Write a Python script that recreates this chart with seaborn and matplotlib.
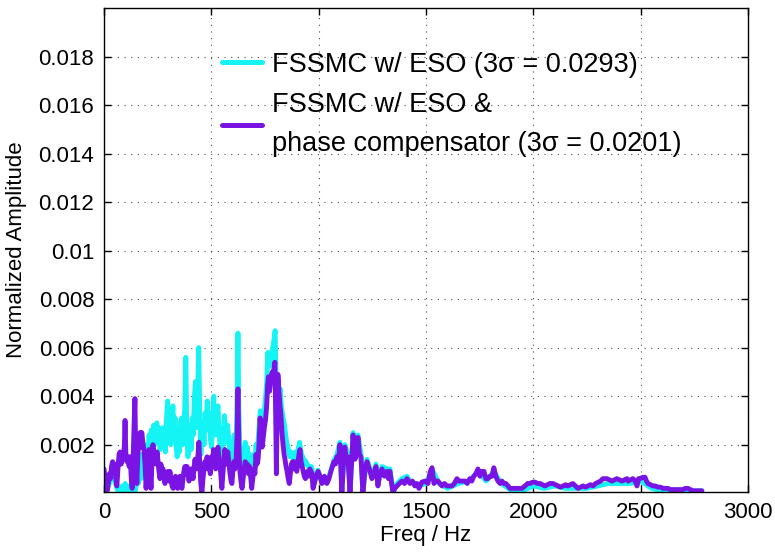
import numpy as np
import pandas as pd
import matplotlib
matplotlib.use("Agg")
import matplotlib.pyplot as plt
import seaborn as sns

# Spectrum of FSSMC with ESO only
freq_eso = [
    0, 7, 14, 21, 28, 35, 42, 50, 57, 64, 71, 78, 85, 92, 99, 106, 113, 120,
    127, 134, 141, 146,
    150, 155, 160, 166, 172, 178, 184, 190, 195, 200, 205, 210, 215, 220, 226,
    231, 236, 241, 246, 251, 256, 261, 266, 271, 276, 281, 286, 291, 296, 301,
    306, 311, 316, 321, 326, 331, 336, 341, 346, 351, 356, 361, 366, 371, 376,
    381, 386, 391, 396, 401, 406, 411, 416, 421, 426, 431, 436, 441, 446, 451,
    456, 461, 466, 471, 476, 481, 486, 491, 496, 501, 506, 511, 516, 521, 526,
    531, 536, 541, 546, 551, 556, 561, 566, 571, 576, 581, 586, 591, 596, 601,
    606, 611, 616, 621, 624, 628, 633, 638, 643, 648, 653, 658, 663, 668, 673,
    678, 683, 688, 693, 698, 703, 708, 713, 718, 723, 728, 733, 738, 743, 748,
    753, 758, 763, 768, 773, 778, 783, 788, 793, 797, 801, 806, 811, 816, 821,
    826, 831, 836, 841, 846, 851, 856, 861, 866, 871, 876, 881, 886, 891, 896,
    901, 906, 911, 916, 921, 926, 931, 936, 941, 946, 951, 956, 961, 966, 971,
    974, 997, 1015, 1038, 1057, 1071, 1085, 1099, 1108, 1122, 1136, 1146, 1160,
    1169, 1183, 1197, 1206, 1225, 1248, 1267, 1276, 1295, 1318, 1332, 1346,
    1365, 1388, 1411, 1425, 1448, 1467, 1500, 1528, 1560, 1600, 1650, 1700,
    1742, 1780, 1816, 1850, 1900, 1950, 2000, 2050, 2100, 2150, 2200, 2250,
    2300, 2350, 2400, 2450, 2500, 2550, 2600, 2650, 2700, 2750, 2785,
]
amp_eso = [
    0.0008, 0.0004, 0.0001, 0.0003, 0.0005, 0.0008, 0.0010, 0.0005, 0.0003,
    0.0001, 0.0002, 0.0001, 0.0003, 0.0001, 0.0004, 0.0002, 0.0001, 0.0003,
    0.0001, 0.0002, 0.0003, 0.0001,
    0.0003, 0.0008, 0.0004, 0.0012, 0.0006, 0.0016, 0.0010, 0.0018, 0.0012,
    0.0020, 0.0016, 0.0024, 0.0017, 0.0026, 0.0019,
    0.0028, 0.0020, 0.0025, 0.0029, 0.0021, 0.0027, 0.0018, 0.0022, 0.0027,
    0.0019, 0.0025, 0.0017, 0.0030, 0.0038, 0.0024,
    0.0033, 0.0020, 0.0030, 0.0036, 0.0024, 0.0031, 0.0019, 0.0015, 0.0022,
    0.0017, 0.0029, 0.0031, 0.0020, 0.0028, 0.0035,
    0.0056, 0.0024, 0.0015, 0.0020, 0.0028, 0.0018, 0.0031, 0.0024, 0.0040,
    0.0046, 0.0027, 0.0038, 0.0060, 0.0034, 0.0016,
    0.0022, 0.0027, 0.0020, 0.0033, 0.0029, 0.0038, 0.0026, 0.0033, 0.0022,
    0.0019, 0.0030, 0.0040, 0.0028, 0.0024, 0.0033,
    0.0036, 0.0025, 0.0019, 0.0013, 0.0016, 0.0025, 0.0032, 0.0026, 0.0021,
    0.0028, 0.0022, 0.0017, 0.0013, 0.0012, 0.0020,
    0.0024, 0.0019, 0.0021, 0.0045, 0.0066, 0.0035, 0.0017, 0.0012, 0.0009,
    0.0014, 0.0018, 0.0021, 0.0016, 0.0019, 0.0014,
    0.0016, 0.0011, 0.0008, 0.0012, 0.0016, 0.0013, 0.0020, 0.0017, 0.0022,
    0.0028, 0.0034, 0.0030, 0.0026, 0.0031, 0.0035,
    0.0040, 0.0046, 0.0058, 0.0052, 0.0056, 0.0054, 0.0059, 0.0061, 0.0064,
    0.0067, 0.0050, 0.0044, 0.0047, 0.0041, 0.0043,
    0.0036, 0.0033, 0.0030, 0.0028, 0.0024, 0.0021, 0.0019, 0.0017, 0.0015,
    0.0017, 0.0015, 0.0016, 0.0014, 0.0017, 0.0015,
    0.0016, 0.0019, 0.0021, 0.0018, 0.0016, 0.0015, 0.0014, 0.0012, 0.0013,
    0.0012, 0.0011, 0.0011, 0.0010, 0.0011, 0.0009,
    0.00025, 0.00095, 0.00045, 0.00045, 0.00095, 0.00135, 0.0016, 0.0021,
    0.0001, 0.0020, 0.0016, 0.0001, 0.0025,
    0.0015, 0.0024, 0.0016, 0.0001, 0.0014, 0.0007, 0.0012, 0.0004, 0.0011,
    0.0010, 0.0010, 0.0001,
    0.0004, 0.0006, 0.0007, 0.0005, 0.0004, 0.0003, 0.0004, 0.0010, 0.0004,
    0.0002, 0.0004, 0.0005,
    0.0009, 0.0005, 0.0009, 0.0004, 0.0001, 0.0001, 0.0003, 0.0002, 0.0003,
    0.0002, 0.0002, 0.0002,
    0.0003, 0.0004, 0.0004, 0.0004, 0.0005, 0.0002, 0.0001, 0.0001, 0.0001,
    0.0001, 0.0001,
]

# Spectrum of FSSMC with ESO and phase compensator
freq_comp = [
    0, 5, 10, 15, 20, 25, 30, 35, 40, 45, 50, 55, 60, 65, 70, 75, 80, 85, 90,
    95, 98, 102, 107, 112, 117, 122, 127, 131, 135, 140, 144, 148, 153, 158,
    163, 168, 172, 176, 181, 186, 191, 196, 201, 205, 210, 215, 219, 224, 228,
    233, 238, 243, 247, 252, 256, 261, 265, 270, 275, 280, 284, 289, 293, 298,
    303, 307, 312, 317, 322, 327, 333, 338, 343, 348, 354, 359, 363, 368, 372,
    377, 382, 387, 391, 396, 400, 405, 410, 415, 420, 424, 429, 433, 438, 442,
    446, 451, 456, 461, 466, 470, 475, 480, 485, 490, 495, 500, 505, 510, 515,
    520, 525, 531, 536, 541, 546, 549, 554, 558, 563, 568, 572, 577, 582, 587,
    592, 596, 601, 605, 610, 615, 620, 624, 628, 633, 638, 643, 648, 653, 658,
    663, 668, 673, 678, 683, 688, 693, 698, 703, 708, 713, 718, 723, 727, 732,
    737, 742, 747, 752, 757, 762, 766, 771, 776, 780, 784, 788, 792, 796, 800,
    803, 806, 810, 815, 820, 825, 829, 834, 839, 843, 848, 853, 858, 863, 868,
    873, 878, 883, 888, 893, 898, 903, 908, 913, 918, 923, 928, 933, 938, 943,
    948, 953, 959, 964, 969,
    974, 985, 997, 1006, 1015, 1027, 1038, 1048, 1057, 1064, 1071, 1078, 1085,
    1092, 1099, 1108, 1115, 1122, 1129, 1136, 1146, 1153, 1160, 1169, 1176,
    1183, 1190, 1197, 1206, 1215, 1225, 1236, 1248, 1257, 1267, 1276, 1285,
    1295, 1306, 1318, 1325, 1332, 1346, 1355, 1365, 1376, 1388, 1400, 1411,
    1418, 1425, 1437, 1448, 1458, 1467, 1481, 1495, 1509, 1520, 1528, 1537,
    1546, 1556, 1565, 1574, 1586, 1597, 1609, 1621, 1632, 1644, 1655, 1667,
    1681, 1692, 1704, 1713, 1723, 1732, 1742, 1751, 1760, 1770, 1779, 1788,
    1798, 1807, 1816, 1825, 1835, 1845, 1854, 1863, 1872, 1882, 1891, 1903,
    1914, 1930, 1947, 1961, 1973, 1984, 1995, 2007, 2019, 2031, 2042, 2054,
    2066, 2077, 2091, 2103, 2115, 2127, 2138, 2150, 2161, 2173, 2184, 2196,
    2208, 2220, 2231, 2243, 2254, 2266, 2278, 2290, 2301, 2313, 2324, 2334,
    2343, 2355, 2366, 2378, 2389, 2401, 2413, 2424, 2436, 2441, 2452, 2464,
    2474, 2483, 2490, 2497, 2508, 2520, 2527, 2534, 2545, 2557, 2568, 2580,
    2592, 2604, 2615, 2627, 2638, 2650, 2661, 2673, 2685, 2697, 2708, 2720,
    2731, 2743, 2755, 2767, 2776, 2785,
]
amp_comp = [
    0.0010, 0.0006, 0.0002, 0.0001, 0.0004, 0.0008, 0.0006, 0.0011, 0.0013,
    0.0009, 0.0012, 0.0006, 0.0003, 0.0010, 0.0016, 0.0017, 0.0012, 0.0015,
    0.0014, 0.0020, 0.0030, 0.0016, 0.0013, 0.0015, 0.0011, 0.0015, 0.0006,
    0.0002, 0.0012, 0.0028, 0.0039, 0.0015, 0.0004, 0.0016, 0.0022, 0.0025,
    0.0019, 0.0025, 0.0021, 0.0018, 0.0012, 0.0002, 0.0010, 0.0016, 0.0018,
    0.0009, 0.0002, 0.0014, 0.0020, 0.0016, 0.0015, 0.0012, 0.0017, 0.0013,
    0.0009, 0.0006, 0.0012, 0.0008, 0.0010, 0.0007, 0.0004, 0.0008, 0.0006,
    0.0009, 0.0005, 0.0009, 0.0006, 0.0003, 0.0002, 0.0005, 0.0007, 0.0004,
    0.0002, 0.0004, 0.0007, 0.0004, 0.0002, 0.0006, 0.0009, 0.0011, 0.0008,
    0.0011, 0.0008, 0.0005, 0.0007, 0.0010, 0.0009, 0.0006, 0.0011, 0.0014,
    0.0010, 0.0012, 0.0016, 0.0021, 0.0012, 0.0004, 0.0000, 0.0006, 0.0010,
    0.0013, 0.0011, 0.0015, 0.0010, 0.0013, 0.0008, 0.0015, 0.0012, 0.0018,
    0.0014, 0.0010, 0.0016, 0.0019, 0.0014, 0.0011, 0.0005, 0.0002, 0.0008,
    0.0013, 0.0018, 0.0012, 0.0015, 0.0017, 0.0012, 0.0008, 0.0005, 0.0004,
    0.0010, 0.0013, 0.0010, 0.0012, 0.0025, 0.0043, 0.0020, 0.0009, 0.0005,
    0.0002, 0.0006, 0.0010, 0.0013, 0.0010, 0.0012, 0.0008, 0.0011, 0.0007,
    0.0002, 0.0006, 0.0010, 0.0008, 0.0016, 0.0012, 0.0014, 0.0022, 0.0031,
    0.0024, 0.0019, 0.0023, 0.0027, 0.0030, 0.0035, 0.0044, 0.0048, 0.0042,
    0.0046, 0.0049, 0.0050, 0.0046, 0.0052, 0.0054, 0.0030, 0.0008, 0.0030,
    0.0049, 0.0042, 0.0036, 0.0031, 0.0025, 0.0020, 0.0016, 0.0014, 0.0011,
    0.0009, 0.0006, 0.0004, 0.0008, 0.0012, 0.0013, 0.0010, 0.0013, 0.0011,
    0.0009, 0.0012, 0.0016, 0.0018, 0.0013, 0.0011, 0.0009, 0.0007, 0.0006,
    0.0008, 0.0009, 0.0007, 0.0010, 0.0009, 0.0008,
    0.0002, 0.0006, 0.0009, 0.0007, 0.0004, 0.0007, 0.0004, 0.0006, 0.0009,
    0.0011, 0.0013, 0.0012, 0.0015,
    0.0013, 0.0020, 0.0000, 0.0012, 0.0019, 0.0013, 0.0015, 0.0000, 0.0012,
    0.0024, 0.0014, 0.0016,
    0.0023, 0.0016, 0.0015, 0.0000, 0.0009, 0.0013, 0.0010, 0.0006, 0.0008,
    0.0011, 0.0003, 0.0008,
    0.0010, 0.0007, 0.0009, 0.0006, 0.0009, 0.0000, 0.0002, 0.0003, 0.0004,
    0.0005, 0.0004, 0.0006,
    0.0005, 0.0004, 0.0005, 0.0003, 0.0004, 0.0002, 0.00046, 0.0005, 0.0004,
    0.0009, 0.00105, 0.0004,
    0.0005, 0.0005, 0.0004, 0.0003, 0.0004, 0.0003, 0.0003, 0.0003, 0.0004,
    0.0006, 0.0005, 0.0005,
    0.0005, 0.0004, 0.0006, 0.0005, 0.0007, 0.0008, 0.0010, 0.0007, 0.0009,
    0.0009, 0.0006, 0.0006,
    0.0007, 0.0007, 0.00105, 0.0007, 0.0005, 0.0004, 0.0005, 0.0004, 0.0004,
    0.0003, 0.0002, 0.0002,
    0.0002, 0.0002, 0.0002, 0.0003, 0.0004, 0.0004, 0.00045, 0.00046, 0.0004,
    0.0004, 0.00035, 0.0003,
    0.00035, 0.0004, 0.0004, 0.00035, 0.0003, 0.00025, 0.0003, 0.00035,
    0.0003, 0.00035, 0.0004, 0.0003,
    0.0002, 0.00025, 0.0003, 0.00025, 0.0003, 0.00035, 0.0003, 0.0004,
    0.00045, 0.0005, 0.0006, 0.0006,
    0.0006, 0.00055, 0.0005, 0.00055, 0.0006, 0.00055, 0.0005, 0.00055,
    0.0006, 0.0005, 0.00055, 0.0006,
    0.0005, 0.0003, 0.0006, 0.0006, 0.00065, 0.00066, 0.0005, 0.0004,
    0.00035, 0.0003, 0.0003, 0.00025,
    0.00025, 0.0002, 0.0002, 0.0002, 0.00015, 0.00015, 0.00015, 0.00015,
    0.00015, 0.00015, 0.0002, 0.0002,
    0.00015, 0.0001, 0.0001, 0.0001, 0.0001, 0.0001,
]

label_eso = "FSSMC w/ ESO (3\u03c3 = 0.0293)"
label_comp = "FSSMC w/ ESO &\nphase compensator (3\u03c3 = 0.0201)"
colors = {label_eso: "#14f4f4", label_comp: "#7a14e4"}

x_ticks = [0, 500, 1000, 1500, 2000, 2500, 3000]
y_ticks = [0.002, 0.004, 0.006, 0.008, 0.010, 0.012, 0.014, 0.016, 0.018]
y_tick_labels = ["0.002", "0.004", "0.006", "0.008", "0.01", "0.012",
                 "0.014", "0.016", "0.018"]

df = pd.concat([
    pd.DataFrame({"freq": freq_eso, "amp": amp_eso, "series": label_eso}),
    pd.DataFrame({"freq": freq_comp, "amp": amp_comp, "series": label_comp}),
], ignore_index=True)

sns.set_style("white")
plt.rcParams["font.family"] = ["Liberation Sans", "DejaVu Sans"]
plt.rcParams["text.color"] = "black"
plt.rcParams["axes.labelcolor"] = "black"
plt.rcParams["xtick.color"] = "black"
plt.rcParams["ytick.color"] = "black"

fig = plt.figure(figsize=(7.75, 5.52), dpi=100)
ax = fig.add_axes([0.1342, 0.1087, 0.831, 0.8768])

sns.lineplot(data=df, x="freq", y="amp", hue="series",
             hue_order=[label_eso, label_comp], palette=colors,
             estimator=None, linewidth=3.5, ax=ax, legend=False)

ax.set_xlim(0, 3000)
ax.set_ylim(0.00005, 0.0200)
ax.set_xticks(x_ticks)
ax.set_xticklabels([str(v) for v in x_ticks])
ax.set_yticks(y_ticks)
ax.set_yticklabels(y_tick_labels)

ax.grid(True, color="0.3", linestyle=(0, (1, 5)), linewidth=0.8)
ax.set_axisbelow(True)
for s in ax.spines.values():
    s.set_visible(True)
    s.set_color("black")
    s.set_linewidth(1.0)
ax.tick_params(direction="in", length=5, width=1, labelsize=16,
               top=True, right=True, bottom=True, left=True, pad=7,
               colors="black")

ax.set_xlabel("Freq / Hz", fontsize=16, labelpad=2)
ax.set_ylabel("Normalized Amplitude", fontsize=16, labelpad=8)

handles = [plt.Line2D([], [], color=colors[label_eso], linewidth=3.6),
           plt.Line2D([], [], color=colors[label_comp], linewidth=3.6)]
leg = ax.legend(handles, [label_eso, label_comp], loc="upper left",
                bbox_to_anchor=(0.2865, 0.9066), bbox_transform=fig.transFigure,
                frameon=False, fontsize=19.5, handlelength=1.48,
                handletextpad=0.37, labelspacing=0.55, borderpad=0.0,
                borderaxespad=0.0)
for t in leg.get_texts():
    t.set_linespacing(1.62)

fig.savefig("out.png", dpi=100)
